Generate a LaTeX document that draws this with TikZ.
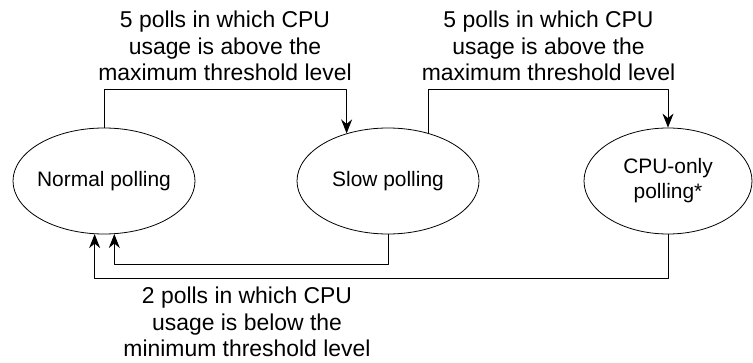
\documentclass[tikz,border=0pt]{standalone}
\usepackage{fontspec}
\setmainfont{Liberation Sans}
\usetikzlibrary{arrows.meta}
\usetikzlibrary{shapes.geometric}

\begin{document}
\begin{tikzpicture}[>={Stealth[length=14bp,width=11bp]},line join=bevel,x=1bp,y=1bp,
  state/.style={draw,ellipse,line width=0.8bp,inner xsep=-30bp,inner ysep=0pt,minimum width=182bp,minimum height=106bp,align=center,font=\fontsize{21}{25}\selectfont},
  cond/.style={align=center,inner sep=0pt,font=\fontsize{23}{26.5}\selectfont}]
\useasboundingbox (0,0) rectangle (753,362);
%%
\node (node_normal) at (104bp,181bp) [state] {Normal polling};
  \node (node_slow) at (388bp,181bp) [state] {Slow polling};
  \node (node_cpu) at (668bp,181bp) [state,minimum width=168bp] {CPU-only\\polling*};
  \coordinate (top_rail) at (0bp,272bp);
  \coordinate (inner_rail) at (0bp,98bp);
  \coordinate (outer_rail) at (0bp,84bp);
  \draw [black,line width=1bp,->] (node_normal.north) -- (node_normal.north |- top_rail) -| (node_slow.131.8);
  \draw [black,line width=1bp,->] (node_slow.50.8) -- (node_slow.50.8 |- top_rail) -| (node_cpu.north);
  \draw [black,line width=1bp,->] (node_slow.south) -- (node_slow.south |- inner_rail) -| (node_normal.281.8);
  \draw [black,line width=1bp,->] (node_cpu.south) -- (node_cpu.south |- outer_rail) -| (node_normal.260.3);
  \node (label_up1) at (225bp,281bp) [cond,anchor=south] {5 polls in which CPU\\usage is above the\\maximum threshold level};
  \node (label_up2) at (548.5bp,281bp) [cond,anchor=south] {5 polls in which CPU\\usage is above the\\maximum threshold level};
  \node (label_down) at (247bp,75bp) [cond,anchor=north] {2 polls in which CPU\\usage is below the\\minimum threshold level};
%
\end{tikzpicture}
\end{document}
